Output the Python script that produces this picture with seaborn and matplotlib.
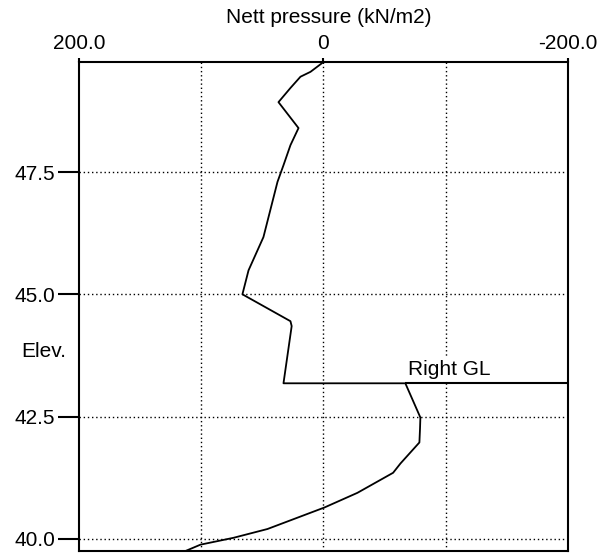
import pandas as pd
import seaborn as sns
import matplotlib.pyplot as plt

# nett pressure profile (kN/m2 against elevation)
pressure = [0, 10.6, 18.8, 27, 36.8, 20.4, 27, 32.7, 37.6, 49.1, 61.3, 66.3,
            27, 26, 32.7, -67, -79.3, -79, -78.5, -63, -57, -27.8, -0.8,
            45.8, 73.6, 100.6, 112.9]
elev = [49.75, 49.55, 49.45, 49.22, 48.93, 48.40, 48.05, 47.64, 47.30, 46.17,
        45.49, 45.0, 44.45, 44.35, 43.18, 43.18, 42.48, 42.25, 41.97, 41.54,
        41.35, 40.94, 40.64, 40.20, 40.02, 39.88, 39.75]

gl_elev = 43.18
gl_label = 'Right GL'

x_ticks = [200, 0, -200]
x_ticklabels = ['200.0', '0', '-200.0']
y_ticks = [40.0, 42.5, 45.0, 47.5]
y_ticklabels = ['40.0', '42.5', '45.0', '47.5']
x_grid = [100, 0, -100]

sns.set_style('white')
plt.rcParams['font.family'] = ['Liberation Sans', 'DejaVu Sans']
plt.rcParams['font.size'] = 15
plt.rcParams['text.color'] = 'black'
plt.rcParams['axes.labelcolor'] = 'black'

df = pd.DataFrame({'pressure': pressure, 'elev': elev})

fig, ax = plt.subplots(figsize=(6.1, 5.54), dpi=100)
fig.subplots_adjust(left=0.1295, right=0.931, top=0.888, bottom=0.0054)

# dotted grid
for g in x_grid:
    ax.axvline(g, color='black', lw=1, ls=(0, (1, 2)), zorder=1)
for g in y_ticks:
    ax.axhline(g, color='black', lw=1, ls=(0, (1, 2)), zorder=1)

sns.lineplot(data=df, x='pressure', y='elev', sort=False, estimator=None,
             color='black', lw=1.3, ax=ax, zorder=3)

# ground level line
ax.hlines(gl_elev, pressure[15], -200, color='black', lw=1.5, zorder=3)
ax.text(-69.5, gl_elev + 0.08, gl_label, ha='left', va='bottom', color='black',
        bbox=dict(facecolor='white', edgecolor='none', pad=2), zorder=2)

ax.set_xlim(200, -200)
ax.set_ylim(39.75, 49.75)

ax.xaxis.tick_top()
ax.xaxis.set_label_position('top')
ax.set_xticks(x_ticks)
ax.set_xticklabels(x_ticklabels)
ax.set_yticks(y_ticks)
ax.set_yticklabels(y_ticklabels)
ax.tick_params(axis='x', top=True, bottom=False, length=3, width=1.5, pad=3.5,
               colors='black')
ax.tick_params(axis='y', left=True, length=15, width=1.5, pad=2, colors='black')

ax.set_xlabel('Nett pressure (kN/m2)', va='center', color='black')
ax.xaxis.set_label_coords(0.511, 1.092)
ax.set_ylabel('Elev.', rotation=0, ha='center', va='center', color='black')
ax.yaxis.set_label_coords(-0.0716, 0.409)

for s in ax.spines.values():
    s.set_color('black')
    s.set_linewidth(1.5)

plt.savefig('out.png', dpi=100)
